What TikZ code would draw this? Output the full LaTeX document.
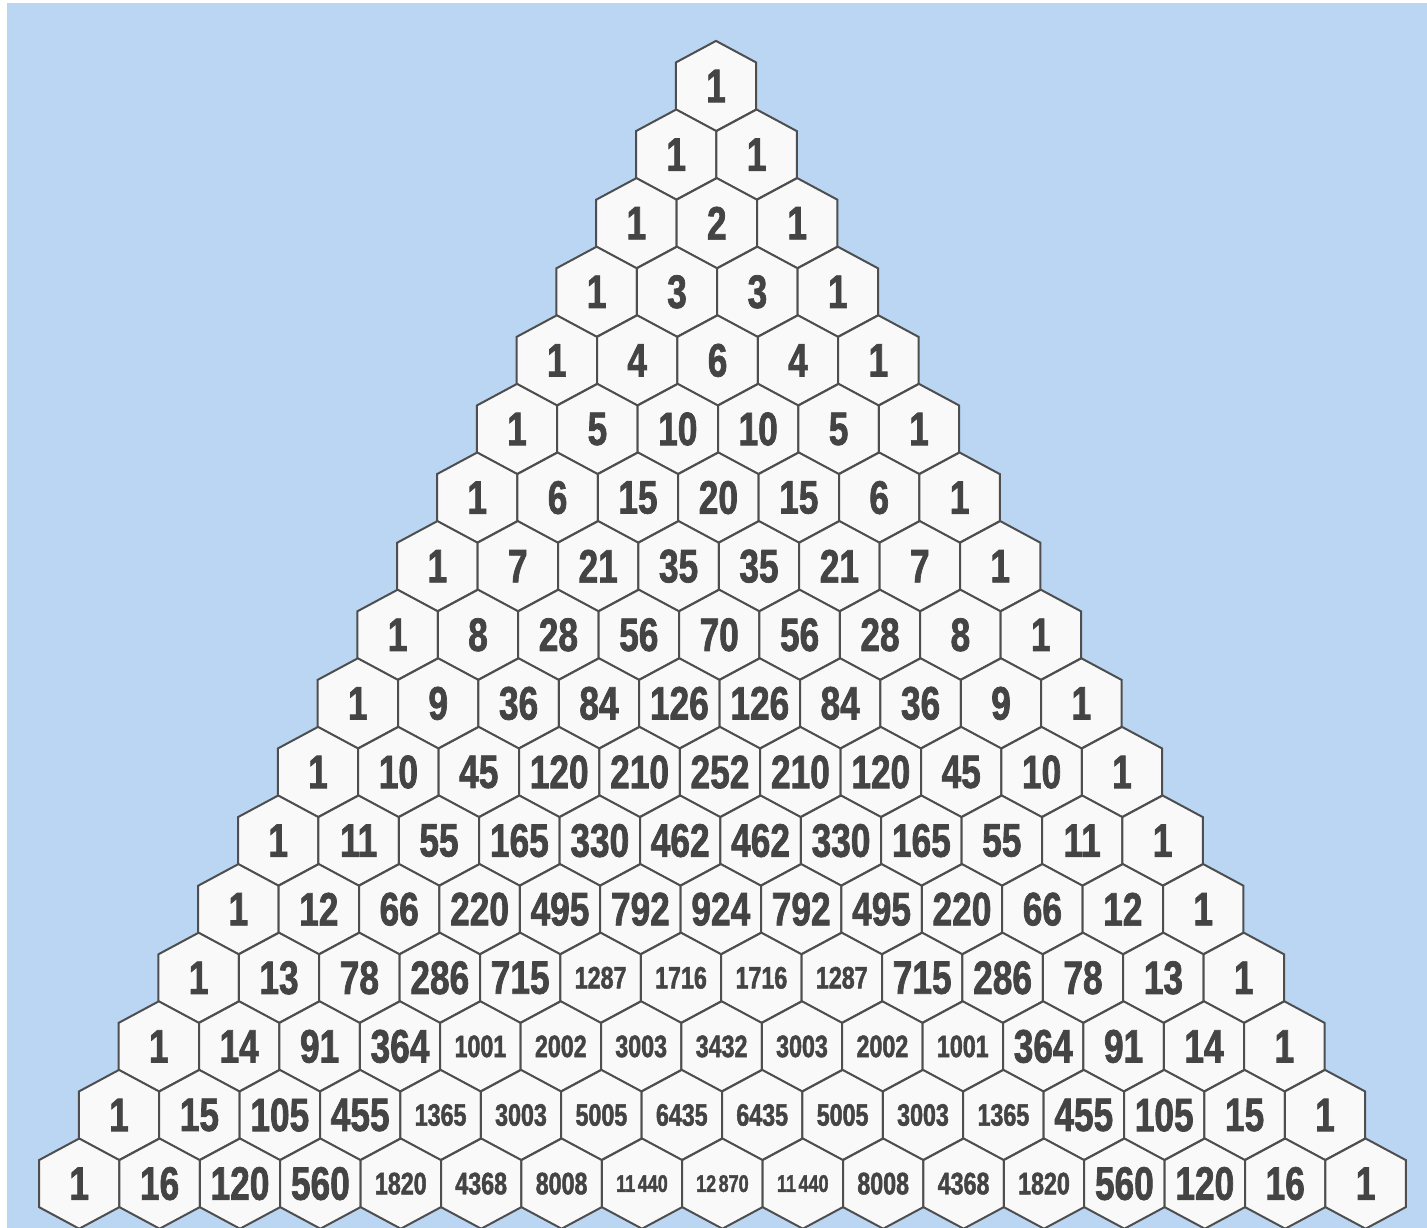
\documentclass[tikz,border=0pt]{standalone}
\usepackage{fontspec}
\newfontfamily\hexfont[FakeStretch=0.75,FakeBold=1.5]{Liberation Sans}
\definecolor{bgblue}{RGB}{186,214,242}
\definecolor{hexfill}{RGB}{249,249,249}
\definecolor{hexedge}{RGB}{78,78,78}
\definecolor{numgray}{RGB}{68,68,68}
\tikzset{
  hexcell/.style={draw=hexedge, fill=hexfill, line width=2pt, line join=miter},
  numlabel/.style={inner sep=0pt, text=numgray},
  numbig/.style={numlabel, font=\hexfont\bfseries\fontsize{47}{47}\selectfont},
  nummid/.style={numlabel, font=\hexfont\bfseries\fontsize{31}{31}\selectfont},
  numsmall/.style={numlabel, font=\hexfont\bfseries\fontsize{24}{24}\selectfont},
}
\begin{document}
\begin{tikzpicture}[x=1pt,y=1pt]
\useasboundingbox (0,0) rectangle (1427,-1228);
\clip (0,0) rectangle (1427,-1228);
\fill[white] (0,0) rectangle (1427,-1228);
\fill[bgblue] (7,-3) rectangle (1427,-1228);
\foreach \r in {0,...,16}{
  \xdef\cval{1}
  \foreach \k in {0,...,\r}{
    \pgfmathsetmacro\cx{716+0.4*\r+(\k-\r/2)*80.4}
    \pgfmathsetmacro\cy{-(86+68.6*\r)}
    \draw[hexcell] (\cx,\cy) ++(0,45.1) -- ++(40.2,-21.6) -- ++(0,-47) -- ++(-40.2,-21.6) -- ++(-40.2,21.6) -- ++(0,47) -- cycle;
    \ifnum\cval>9999
      \node[numsmall] (h-\r-\k) at (\cx,\cy) {\the\numexpr(\cval-500)/1000\relax\hspace{2.5pt}\the\numexpr\cval-1000*((\cval-500)/1000)\relax};
    \else\ifnum\cval>999
      \node[nummid] (h-\r-\k) at (\cx,\cy) {\cval};
    \else
      \node[numbig] (h-\r-\k) at (\cx,\cy) {\cval};
    \fi\fi
    \xdef\cval{\the\numexpr\cval*(\r-\k)/(\k+1)\relax}
  }
}
\end{tikzpicture}
\end{document}
